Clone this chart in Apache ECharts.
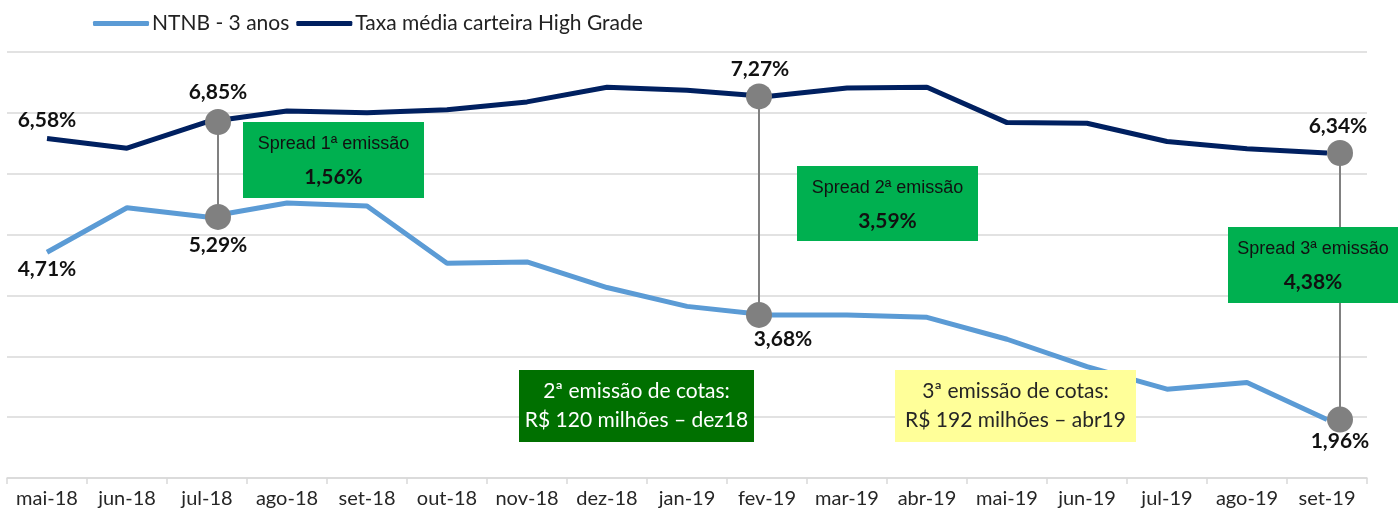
<!DOCTYPE html>
<html>
<head>
<meta charset="utf-8">
<script src="https://cdn.jsdelivr.net/npm/echarts@6/dist/echarts.min.js"></script>
<style>
  html, body { margin: 0; padding: 0; background: #fff; }
  #chart { width: 1398px; height: 514px; }
</style>
</head>
<body>
<div id="chart"></div>
<script>
// ── Data ────────────────────────────────────────────────────
const months = [
  'mai-18', 'jun-18', 'jul-18', 'ago-18', 'set-18', 'out-18', 'nov-18', 'dez-18', 'jan-19',
  'fev-19', 'mar-19', 'abr-19', 'mai-19', 'jun-19', 'jul-19', 'ago-19', 'set-19',
]
const ntnb = [4.71, 5.44, 5.29, 5.52, 5.47, 4.53, 4.55, 4.13, 3.82, 3.68, 3.68, 3.64, 3.28, 2.83, 2.46, 2.57, 1.96]
const taxaHG = [6.58, 6.42, 6.85, 7.03, 7.00, 7.05, 7.18, 7.42, 7.37, 7.27, 7.41, 7.42, 6.84, 6.83, 6.53, 6.41, 6.34]
const labelled = ['mai-18', 'jul-18', 'fev-19', 'set-19']
const spreadMonths = ['jul-18', 'fev-19', 'set-19']
const emissions = [
  ['2ª emissão de cotas:', 'R$ 120 milhões – dez18'],
  ['3ª emissão de cotas:', 'R$ 192 milhões – abr19'],
]

// ── Styling helpers ─────────────────────────────────────────
const FONT = 'Lato, "Open Sans", sans-serif'
const fmt = v => v.toFixed(2).replace('.', ',') + '%'

// label tweaks per labelled month: [distance top, dx top, distance bottom, dx bottom]
const labelTweak = {
  'mai-18': [8, 0, 7, 0],
  'jul-18': [19, 11, 18, 11],
  'fev-19': [17, -7, 14, 16],
  'set-19': [16, 11, 11, 13],
}
const markerShift = { 'jul-18': 11, 'fev-19': -8, 'set-19': 13 }

function seriesData(values, pos) {
  return values.map((v, i) => {
    const m = months[i]
    if (!labelled.includes(m)) return v
    const t = labelTweak[m]
    const top = pos === 'top'
    return {
      value: v,
      label: {
        show: true,
        position: pos,
        distance: top ? t[0] : t[2],
        offset: [top ? t[1] : t[3], 0],
        formatter: p => fmt(p.value),
      },
    }
  })
}

const spreadData = spreadMonths.map(m => {
  const i = months.indexOf(m)
  return [i, taxaHG[i], ntnb[i], markerShift[m] || 0]
})

const Z = 100
function spreadBox(n, x, y, w, h) {
  const i = months.indexOf(spreadMonths[n - 1])
  return {
    type: 'group', x: x, y: y,
    children: [
      { type: 'rect', z: Z, shape: { x: 0, y: 0, width: w, height: h }, style: { fill: '#00B050' } },
      { type: 'text', z: Z + 1, style: { text: 'Spread ' + n + 'ª emissão', x: w / 2, y: 22, align: 'center', verticalAlign: 'middle',
        font: '18px "Liberation Sans", Arial, sans-serif', fill: '#111' } },
      { type: 'text', z: Z + 1, style: { text: fmt(taxaHG[i] - ntnb[i]), x: w / 2, y: 55, align: 'center', verticalAlign: 'middle',
        font: 'bold 21px ' + FONT, fill: '#111' } },
    ],
  }
}

function emissionBox(k, x, y, w, h, bg, color) {
  return {
    type: 'group', x: x, y: y,
    children: [
      { type: 'rect', z: Z, shape: { x: 0, y: 0, width: w, height: h }, style: { fill: bg } },
      { type: 'text', z: Z + 1, style: { text: emissions[k][0], x: w / 2, y: 21, align: 'center', verticalAlign: 'middle',
        font: '21px ' + FONT, fill: color } },
      { type: 'text', z: Z + 1, style: { text: emissions[k][1], x: w / 2, y: 50, align: 'center', verticalAlign: 'middle',
        font: '21px ' + FONT, fill: color } },
    ],
  }
}

const chart = echarts.init(document.getElementById('chart'), null, { renderer: 'canvas' })

chart.setOption({
  animation: false,
  backgroundColor: '#fff',
  textStyle: { fontFamily: FONT },
  legend: {
    data: ['NTNB - 3 anos', 'Taxa média carteira High Grade'],
    left: 88, top: 8,
    icon: 'roundRect',
    itemWidth: 56, itemHeight: 5, itemGap: 7,
    textStyle: { fontSize: 21, color: '#222', padding: [0, 0, 0, -2] },
  },
  grid: { left: 7, right: 31, top: 52, bottom: 36 },
  xAxis: {
    type: 'category',
    data: months,
    boundaryGap: true,
    axisLine: { lineStyle: { color: '#D9D9D9', width: 1.5 } },
    axisTick: { show: true, length: 6, lineStyle: { color: '#D9D9D9', width: 1.5 } },
    axisLabel: { fontSize: 20, color: '#262626', margin: 11, interval: 0 },
  },
  yAxis: {
    type: 'value',
    min: 1, max: 8, interval: 1,
    axisLabel: { show: false },
    axisLine: { show: false },
    axisTick: { show: false },
    splitLine: { lineStyle: { color: '#D9D9D9', width: 1.5 } },
  },
  series: [
    {
      name: 'NTNB - 3 anos',
      type: 'line',
      data: seriesData(ntnb, 'bottom'),
      symbol: 'circle', symbolSize: 0,
      lineStyle: { color: '#5B9BD5', width: 5 },
      itemStyle: { color: '#5B9BD5' },
      label: { fontSize: 21, fontWeight: 'bold', color: '#111', fontFamily: FONT },
      z: 3,
    },
    {
      name: 'Taxa média carteira High Grade',
      type: 'line',
      data: seriesData(taxaHG, 'top'),
      symbol: 'circle', symbolSize: 0,
      lineStyle: { color: '#002060', width: 5 },
      itemStyle: { color: '#002060' },
      label: { fontSize: 21, fontWeight: 'bold', color: '#111', fontFamily: FONT },
      z: 3,
    },
    {
      type: 'custom',
      data: spreadData,
      encode: { x: 0, y: [1, 2] },
      z: 5,
      renderItem: (params, api) => {
        const dx = api.value(3)
        const hi = api.coord([api.value(0), api.value(1)])
        const lo = api.coord([api.value(0), api.value(2)])
        const x = hi[0] + dx
        const grey = '#808080'
        return {
          type: 'group',
          children: [
            { type: 'line', shape: { x1: x, y1: hi[1], x2: x, y2: lo[1] }, style: { stroke: grey, lineWidth: 2 } },
            { type: 'circle', shape: { cx: x, cy: hi[1], r: 13 }, style: { fill: grey } },
            { type: 'circle', shape: { cx: x, cy: lo[1], r: 13 }, style: { fill: grey } },
          ],
        }
      },
    },
  ],
  graphic: [
    spreadBox(1, 243, 122, 181, 76),
    spreadBox(2, 797, 166, 181, 75),
    spreadBox(3, 1228, 227, 170, 76),
    emissionBox(0, 519, 370, 235, 72, '#007000', '#fff'),
    emissionBox(1, 895, 370, 241, 72, '#FFFF99', '#262626'),
  ],
})
</script>
</body>
</html>
